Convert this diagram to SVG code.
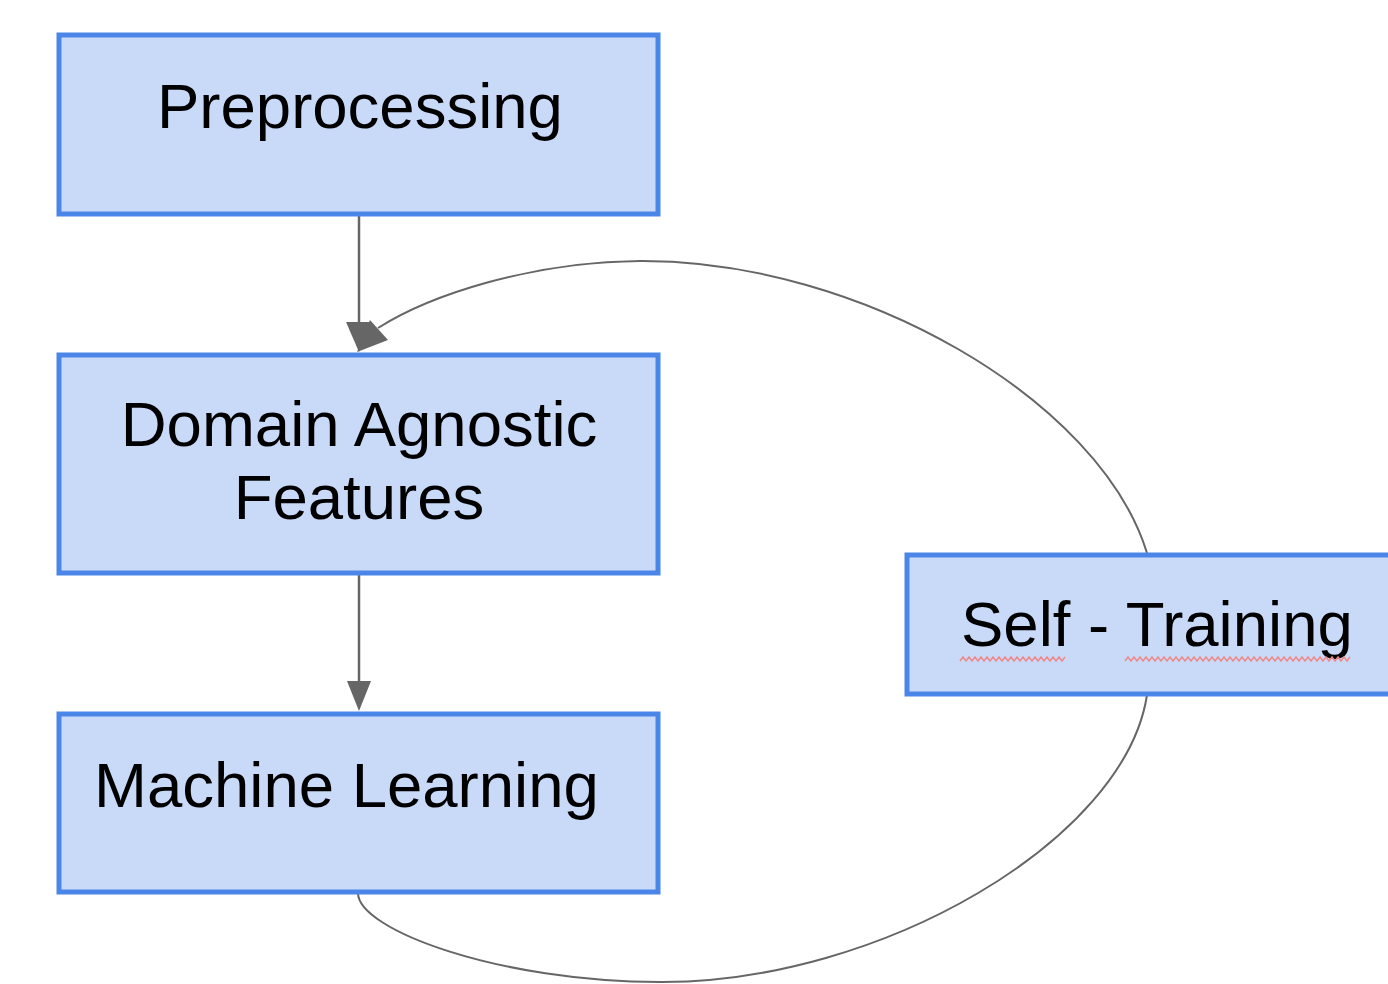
<svg xmlns="http://www.w3.org/2000/svg" width="1388" height="984" viewBox="0 0 1388 984">
<style>
.box{fill:#c9daf8;stroke:#4a86e8;stroke-width:5}
.lbl{font-family:"Liberation Sans",Arial,sans-serif;font-size:63.5px;fill:#000}
.ln{fill:none;stroke:#666;stroke-width:2.5}
.cv{fill:none;stroke:#666;stroke-width:2}
.ah{fill:#666}
.sq{fill:none;stroke:#e88;stroke-width:1.5}
</style>
<rect width="1388" height="984" fill="#fff"/>
<g id="connectors">
<line class="ln" x1="359" y1="215" x2="359" y2="325"/>
<polygon class="ah" points="346,322 372,322 359,352"/>
<line class="ln" x1="359" y1="574" x2="359" y2="684"/>
<polygon class="ah" points="347,681 371,681 359,711"/>
<path class="cv" d="M1147,553 C1100,400 860,260 640,261 C530,262 430,295 378,328"/>
<polygon class="ah" points="370,320 388,340 357,352"/>
<path class="cv" d="M1147,695 C1125,840 880,983 660,982 C500,982 358,930 358,893"/>
</g>
<g id="preprocessing">
<rect class="box" x="59" y="35" width="599" height="179"/>
<text class="lbl" x="157" y="128">Preprocessing</text>
</g>
<g id="domain-agnostic-features">
<rect class="box" x="59" y="355" width="599" height="218"/>
<text class="lbl" x="359" y="446" text-anchor="middle">Domain Agnostic</text>
<text class="lbl" x="359" y="519" text-anchor="middle">Features</text>
</g>
<g id="machine-learning">
<rect class="box" x="59" y="714" width="599" height="178"/>
<text class="lbl" x="94" y="807">Machine Learning</text>
</g>
<g id="self-training">
<rect class="box" x="907" y="555" width="500" height="139"/>
<text class="lbl" x="961" y="646">Self - Training</text>
<path class="sq" d="M960,661 l3,-4 l3,4 l3,-4 l3,4 l3,-4 l3,4 l3,-4 l3,4 l3,-4 l3,4 l3,-4 l3,4 l3,-4 l3,4 l3,-4 l3,4 l3,-4 l3,4 l3,-4 l3,4 l3,-4 l3,4 l3,-4 l3,4 l3,-4 l3,4 l3,-4 l3,4 l3,-4 l3,4 l3,-4 l3,4 l3,-4 l3,4 l3,-4"/>
<path class="sq" d="M1125,661 l3,-4 l3,4 l3,-4 l3,4 l3,-4 l3,4 l3,-4 l3,4 l3,-4 l3,4 l3,-4 l3,4 l3,-4 l3,4 l3,-4 l3,4 l3,-4 l3,4 l3,-4 l3,4 l3,-4 l3,4 l3,-4 l3,4 l3,-4 l3,4 l3,-4 l3,4 l3,-4 l3,4 l3,-4 l3,4 l3,-4 l3,4 l3,-4 l3,4 l3,-4 l3,4 l3,-4 l3,4 l3,-4 l3,4 l3,-4 l3,4 l3,-4 l3,4 l3,-4 l3,4 l3,-4 l3,4 l3,-4 l3,4 l3,-4 l3,4 l3,-4 l3,4 l3,-4 l3,4 l3,-4 l3,4 l3,-4 l3,4 l3,-4 l3,4 l3,-4 l3,4 l3,-4 l3,4 l3,-4 l3,4 l3,-4 l3,4 l3,-4 l3,4 l3,-4"/>
</g>
</svg>
